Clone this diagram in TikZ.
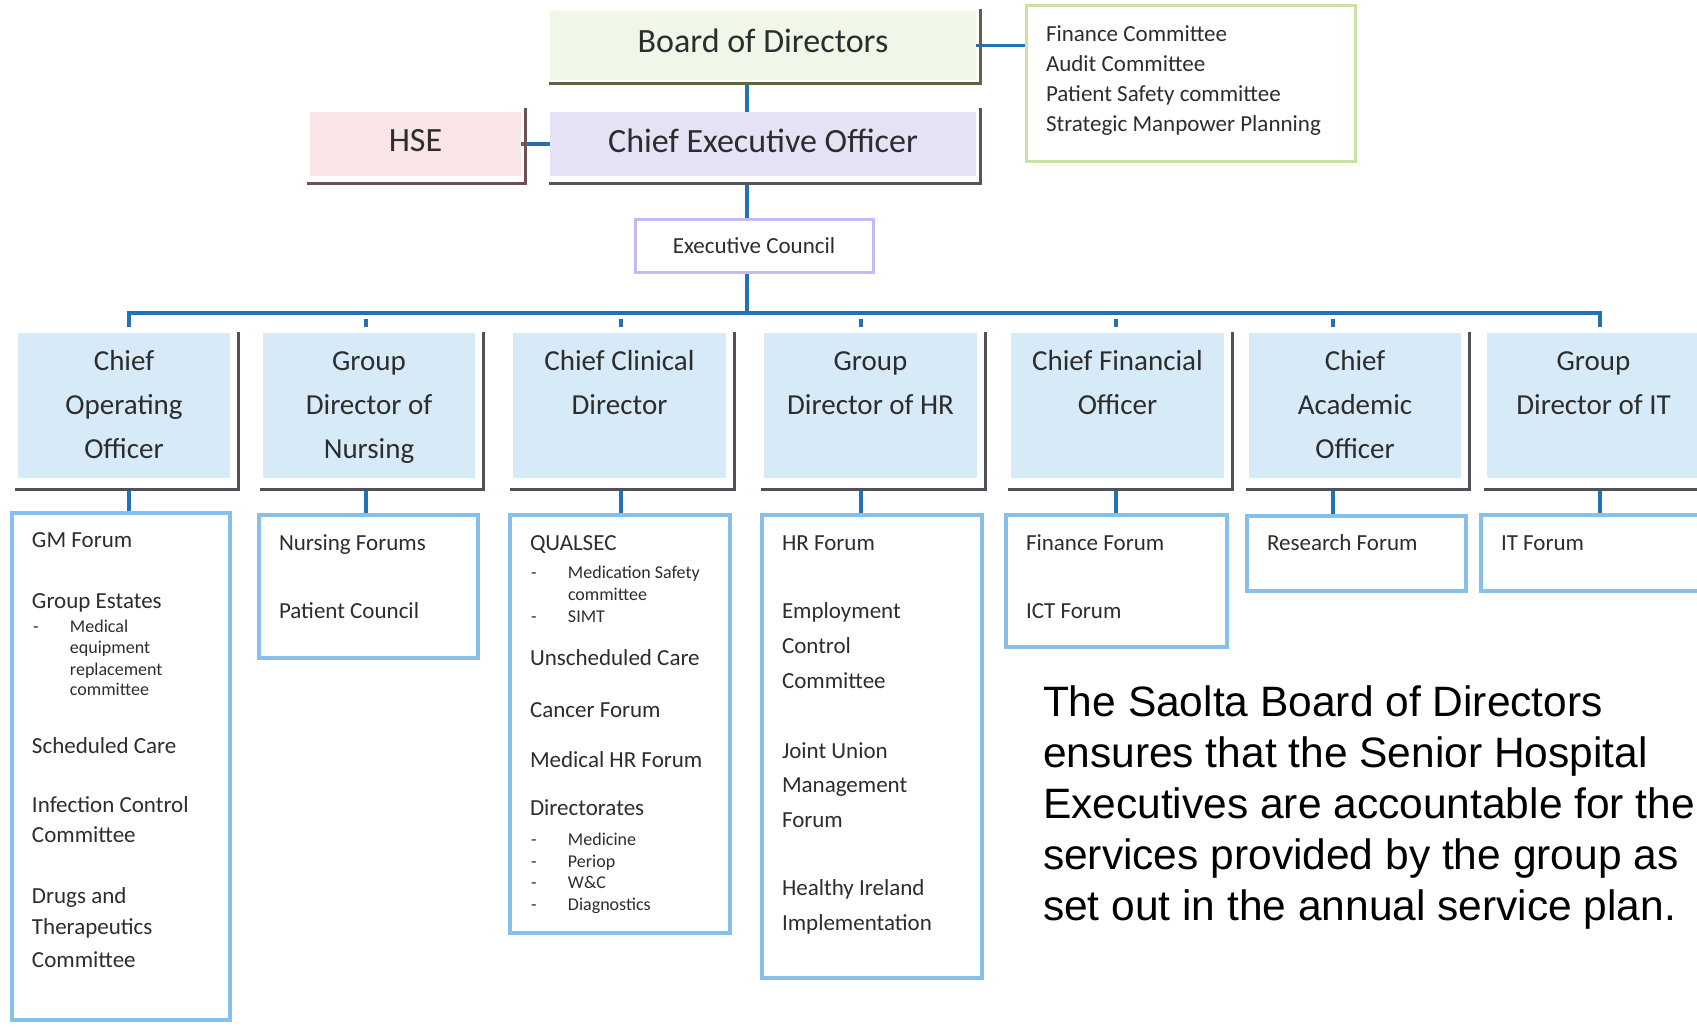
\documentclass[tikz,border=0pt]{standalone}
\usepackage{fontspec}
\setmainfont{Carlito}
\newfontfamily\parafont{Liberation Sans}
\usetikzlibrary{backgrounds}
\setlength{\parindent}{0pt}
\definecolor{connblue}{RGB}{35,115,180}
\definecolor{mgrfill}{RGB}{214,234,248}
\definecolor{listblue}{RGB}{135,193,235}
\definecolor{shadowgray}{RGB}{78,82,88}
\definecolor{boardfill}{RGB}{240,246,232}
\definecolor{boardline}{RGB}{95,100,72}
\definecolor{ceofill}{RGB}{230,226,246}
\definecolor{ceoline}{RGB}{85,85,95}
\definecolor{hsefill}{RGB}{249,228,230}
\definecolor{hseline}{RGB}{110,80,85}
\definecolor{commborder}{RGB}{200,225,165}
\definecolor{ecborder}{RGB}{200,185,240}
\definecolor{textgray}{RGB}{45,45,45}
% list line helpers: #1 = distance from previous baseline, #2 = text
\newcommand\LI[2]{\par\nointerlineskip\vbox to #1{\vss\hbox to\hsize{\kern20pt\smash{#2}\hfil}}}
\newcommand\LS[2]{\par\nointerlineskip\vbox to #1{\vss\hbox to\hsize{\kern21pt\smash{\fontsize{18}{20}\selectfont\makebox[37pt][l]{-}#2}\hfil}}}
\newcommand\LT[2]{\par\nointerlineskip\vbox to #1{\vss\hbox to\hsize{\kern58pt\smash{\fontsize{18}{20}\selectfont #2}\hfil}}}
\newcommand\listbody[3]{\parbox[c][#2][t]{#1}{\fontsize{23}{28}\selectfont #3}}
\newcommand\mgrbody[1]{\parbox[c][145pt][t]{212pt}{\centering\fontsize{29}{44}\selectfont\rule{0pt}{37pt}#1}}
\newcommand\mgrshadow[1]{\draw[shadowline] ([xshift=8pt,yshift=1pt]#1.north east) |- ([xshift=-3pt,yshift=-11pt]#1.south west) coordinate (#1-sh);}
\begin{document}
\begin{tikzpicture}[x=1pt,y=-1pt,
  every node/.style={inner sep=0pt, outer sep=0pt, text=textgray},
  conn/.style={draw=connblue, line width=3.5pt},
  shadowline/.style={draw=shadowgray, line width=3pt},
  mgr/.style={fill=mgrfill, minimum height=145pt},
  listbox/.style={draw=listblue, line width=4.5pt, fill=white},
  topbox/.style={minimum height=64pt, font=\fontsize{34}{40}\selectfont},
]
\useasboundingbox (0,0) rectangle (1697,1027);
\clip (0,0) rectangle (1697,1027);

% top level
\node[topbox, fill=boardfill, minimum width=426pt, minimum height=69pt] (bod) at (763,45.5) {\raisebox{5pt}[\height][\depth]{Board of Directors}};
\draw[line width=3pt, draw=boardline] ([xshift=4pt,yshift=2pt]bod.north east) |- ([xshift=-1pt,yshift=-4pt]bod.south west) coordinate (bod-sh);
\node[topbox, fill=ceofill, minimum width=426pt] (ceo) at (763,144) {\raisebox{3pt}[\height][\depth]{Chief Executive Officer}};
\draw[line width=3pt, draw=ceoline] ([xshift=4pt,yshift=4pt]ceo.north east) |- ([xshift=-1pt,yshift=-8pt]ceo.south west) coordinate (ceo-sh);
\node[topbox, fill=hsefill, minimum width=211pt] (hse) at (415.5,144) {\raisebox{3pt}[\height][\depth]{HSE}};
\draw[line width=3pt, draw=hseline] ([xshift=4pt,yshift=4pt]hse.north east) |- ([xshift=-3pt,yshift=-8pt]hse.south west);
\node[draw=commborder, line width=3pt, minimum width=329pt, minimum height=156pt] (comm) at (1190.5,84)
  {\listbody{329pt}{156pt}{\LI{36pt}{Finance Committee}\LI{30pt}{Audit Committee}\LI{30pt}{Patient Safety committee}\LI{30pt}{Strategic Manpower Planning}}};
\node[draw=ecborder, line width=3pt, fill=white, minimum width=238pt, minimum height=52pt, font=\fontsize{23}{28}\selectfont] (ec) at (754,246) {Executive Council};

% managers
\node[mgr, minimum width=212pt] (m1) at (124,405.5) {\mgrbody{Chief\\Operating\\Officer}};
\node[mgr, minimum width=212pt] (m2) at (369,405.5) {\mgrbody{Group\\Director of\\Nursing}};
\node[mgr, minimum width=213pt] (m3) at (619.5,405.5) {\mgrbody{Chief Clinical\\Director}};
\node[mgr, minimum width=213pt] (m4) at (870.5,405.5) {\mgrbody{Group\\Director of HR}};
\node[mgr, minimum width=213pt] (m5) at (1117.5,405.5) {\mgrbody{Chief Financial\\Officer}};
\node[mgr, minimum width=212pt] (m6) at (1355,405.5) {\mgrbody{Chief\\Academic\\Officer}};
\node[mgr, minimum width=213pt] (m7) at (1593.5,405.5) {\mgrbody{Group\\Director of IT}};
\foreach \m in {m1,m2,m3,m4,m5,m6,m7} {\mgrshadow{\m}}

% forum lists
\node[listbox, minimum width=218pt, minimum height=507pt] (l1) at (121,766.5)
  {\listbody{218pt}{507pt}{\LI{34pt}{GM Forum}\LI{61pt}{Group Estates}\LS{24pt}{Medical}\LT{21pt}{equipment}\LT{22pt}{replacement}\LT{20pt}{committee}\LI{58pt}{Scheduled Care}\LI{59pt}{Infection Control}\LI{30pt}{Committee}\LI{61pt}{Drugs and}\LI{31pt}{Therapeutics}\LI{33pt}{Committee}}};
\node[listbox, minimum width=219pt, minimum height=143pt] (l2) at (368.5,586.5)
  {\listbody{219pt}{143pt}{\LI{35pt}{Nursing Forums}\LI{68pt}{Patient Council}}};
\node[listbox, minimum width=220pt, minimum height=418pt] (l3) at (620,724)
  {\listbody{220pt}{418pt}{\LI{35pt}{QUALSEC}\LS{28pt}{Medication Safety}\LT{22pt}{committee}\LS{22pt}{SIMT}\LI{43pt}{Unscheduled Care}\LI{52pt}{Cancer Forum}\LI{50pt}{Medical HR Forum}\LI{48pt}{Directorates}\LS{30pt}{Medicine}\LS{22pt}{Periop}\LS{21pt}{W\&C}\LS{22pt}{Diagnostics}}};
\node[listbox, minimum width=220pt, minimum height=463pt] (l4) at (872,746.5)
  {\listbody{220pt}{463pt}{\LI{35pt}{HR Forum}\LI{68pt}{Employment}\LI{35pt}{Control}\LI{35pt}{Committee}\LI{70pt}{Joint Union}\LI{34pt}{Management}\LI{35pt}{Forum}\LI{68pt}{Healthy Ireland}\LI{35pt}{Implementation}}};
\node[listbox, minimum width=221pt, minimum height=132pt] (l5) at (1116.5,581)
  {\listbody{221pt}{132pt}{\LI{35pt}{Finance Forum}\LI{68pt}{ICT Forum}}};
\node[listbox, minimum width=219pt, minimum height=75pt] (l6) at (1356.5,553.5)
  {\listbody{219pt}{75pt}{\LI{34pt}{Research Forum}}};
\node[listbox, minimum width=224pt, minimum height=76pt] (l7) at (1593,553)
  {\listbody{224pt}{76pt}{\LI{35pt}{IT Forum}}};

% explanatory text
\node[anchor=base west, text=black] (para) at (1043,716)
  {\parbox[t]{800pt}{\raggedright\parafont\fontsize{42.5}{51}\selectfont
   The Saolta Board of Directors\\ensures that the Senior Hospital\\Executives are accountable for the\\services provided by the group as\\set out in the annual service plan.}};

% connectors
\coordinate (b0) at (747,313);
\coordinate (b1) at (129,313);
\coordinate (b2) at (366,313);
\coordinate (b3) at (621,313);
\coordinate (b4) at (861,313);
\coordinate (b5) at (1116,313);
\coordinate (b6) at (1333,313);
\coordinate (b7) at (1600,313);
\begin{scope}[on background layer]
  \draw[conn] (bod-sh -| b0) -- (ceo.north -| b0);
  \draw[conn] (ceo-sh -| b0) -- (ec.north -| b0);
  \draw[conn] (ec.south -| b0) -- (b0);
  \draw[conn, line width=4.5pt] (hse.east) -- (ceo.west);
  \draw[conn] (bod.east) -- (comm.west |- bod.east);
  \draw[conn, shorten <=6pt, shorten >=6pt] (m1.north -| b1) -- (b1) -- (b7) -- (m7.north -| b7);
  \foreach \i in {2,...,6} {\draw[conn, shorten <=6pt, shorten >=6pt] (b\i) -- (m\i.north -| b\i);}
  \foreach \i in {1,...,7} {\draw[conn] (m\i-sh -| b\i) -- (l\i.north -| b\i);}
\end{scope}
\end{tikzpicture}
\end{document}
